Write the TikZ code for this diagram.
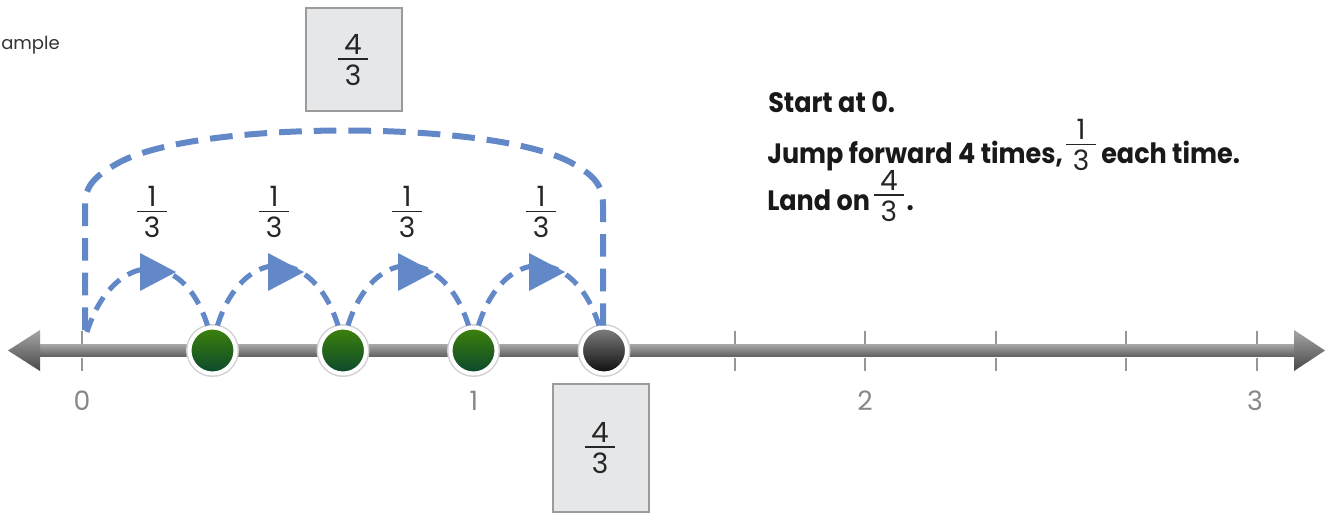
\documentclass[tikz,border=0pt]{standalone}
\usepackage{fontspec}
\setmainfont{Poppins}
\newfontfamily\txtfont{Poppins}[FakeStretch=0.91]
\usetikzlibrary{calc}
\definecolor{jblue}{RGB}{98,136,200}
\definecolor{boxfill}{RGB}{230,231,232}
\definecolor{boxline}{RGB}{155,155,155}
\definecolor{tickgray}{RGB}{150,150,150}
\definecolor{labgray}{RGB}{135,135,135}
\definecolor{gtop}{RGB}{62,130,10}
\definecolor{gbot}{RGB}{10,72,45}
\newcommand\fr[3]{\vbox{\offinterlineskip\hbox to #1{\hss#2\hss}\kern3pt\hrule height 1.3pt\kern3.5pt\hbox to #1{\hss#3\hss}}}
\begin{document}
\begin{tikzpicture}[x=0.75pt,y=-0.75pt,
  jump/.style={draw=jblue, line width=3.8pt, dash pattern=on 11pt off 7pt},
  bracket/.style={draw=jblue, line width=4.5pt, dash pattern=on 17pt off 9pt},
  tri/.style={fill=jblue},
  tickmark/.style={draw=tickgray, line width=1.5pt},
  lab/.style={text=labgray, font=\fontsize{20}{24}\selectfont, inner sep=0},
  dotbase/.style={circle, draw=white, line width=3pt, minimum size=34.5pt, inner sep=0},
  dotg/.style={dotbase, top color=gtop, bottom color=gbot},
  dotk/.style={dotbase, top color=black!50, bottom color=black!95},
  fbox/.style={draw=boxline, fill=boxfill, line width=1.5pt, minimum width=72pt, inner sep=0},
  frac/.style={inner sep=0, font=\fontsize{21}{25}\selectfont, text=black!85},
  txt/.style={anchor=base west, inner sep=0, font=\txtfont\bfseries\fontsize{21}{25}\selectfont, text=black!90}
]
\useasboundingbox (0,0) rectangle (1332,519);
\node[anchor=base west, inner sep=0, text=black!80, font=\fontsize{13.5}{16}\selectfont] (ex) at (1,49) {ample};

% number line
\shade[top color=black!35, bottom color=black!62] (38,344.5) rectangle (1297,356.5);
\shade[top color=black!35, bottom color=black!72] (8,350.5) -- (40,330) -- (40,371) -- cycle;
\shade[top color=black!35, bottom color=black!72] (1325,350.5) -- (1294,330) -- (1294,371) -- cycle;
\foreach \i in {0,...,9}{
  \coordinate (t\i) at ({82+130.5*\i},350.5);
  \draw[tickmark] ($(t\i)+(0,-20)$) -- ($(t\i)+(0,-7)$);
  \draw[tickmark] ($(t\i)+(0,7)$) -- ($(t\i)+(0,20)$);
}
\node[lab] (l0) at (82,401) {0};
\node[lab] (l1) at (474,401) {1};
\node[lab] (l2) at (865,401) {2};
\node[lab] (l3) at (1255,401) {3};

% dots
\foreach \i in {1,2,3,4}{
  \fill[black!18] (t\i) circle (26.5);
}
\node[dotg] (d1) at (t1) {};
\node[dotg] (d2) at (t2) {};
\node[dotg] (d3) at (t3) {};
\node[dotk] (d4) at (t4) {};

% big bracket
\coordinate (z0) at (85,330);
\draw[bracket] (z0) -- (85,205) .. controls (85,185) and (96,175) .. (120,162)
  .. controls (200,120) and (490,120) .. (570,162)
  .. controls (594,175) and (603,185) .. (603,205) -- ($(d4.north)+(-1,0)$);

% jumps
\coordinate (a0) at (87,332);
\draw[jump] (a0) .. controls ($(a0)+(25,-80)$) and ($(d1.north)+(-30,-80)$) .. ($(d1.north)+(-5,0)$);
\draw[jump] ($(d1.north)+(5,0)$) .. controls ($(d1.north)+(30,-80)$) and ($(d2.north)+(-30,-80)$) .. ($(d2.north)+(-5,0)$);
\draw[jump] ($(d2.north)+(5,0)$) .. controls ($(d2.north)+(30,-80)$) and ($(d3.north)+(-30,-80)$) .. ($(d3.north)+(-5,0)$);
\draw[jump] ($(d3.north)+(5,0)$) .. controls ($(d3.north)+(30,-80)$) and ($(d4.north)+(-30,-80)$) .. ($(d4.north)+(-5,0)$);
\foreach \m in {148,276,406,537}{
  \fill[tri] (\m-8,253) -- (\m+28,272) -- (\m-8,291) -- cycle;
}
\node[frac] (f1) at (152,212) {\fr{22pt}{1}{3}};
\node[frac] (f2) at (274,212) {\fr{22pt}{1}{3}};
\node[frac] (f3) at (407,212) {\fr{22pt}{1}{3}};
\node[frac] (f4) at (541,212) {\fr{22pt}{1}{3}};

% boxes
\node[fbox, minimum height=77pt] (bt) at (354,59.5) {};
\node[frac] (ft) at (353,60) {\fr{23pt}{4}{3}};
\node[fbox, minimum height=96pt] (bb) at (601,448) {};
\node[frac] (fb) at (600,448) {\fr{23pt}{4}{3}};

% text
\node[txt] (s1) at (768,112) {Start at 0.};
\node[txt] (s2) at (767,163) {Jump forward 4 times,};
\node[frac, anchor=west] (s2f) at ($(s2.base east)+(3,-18)$) {\fr{22pt}{1}{3}};
\node[txt] (s2b) at ($(s2f.east |- s2.base)+(5,0)$) {each time.};
\node[txt] (s3) at (767,210) {Land on};
\node[frac, anchor=west] (s3f) at ($(s3.base east)+(3,-14)$) {\fr{23pt}{4}{3}};
\node[txt] (s3b) at ($(s3f.east |- s3.base)+(2,0)$) {.};
\end{tikzpicture}
\end{document}
